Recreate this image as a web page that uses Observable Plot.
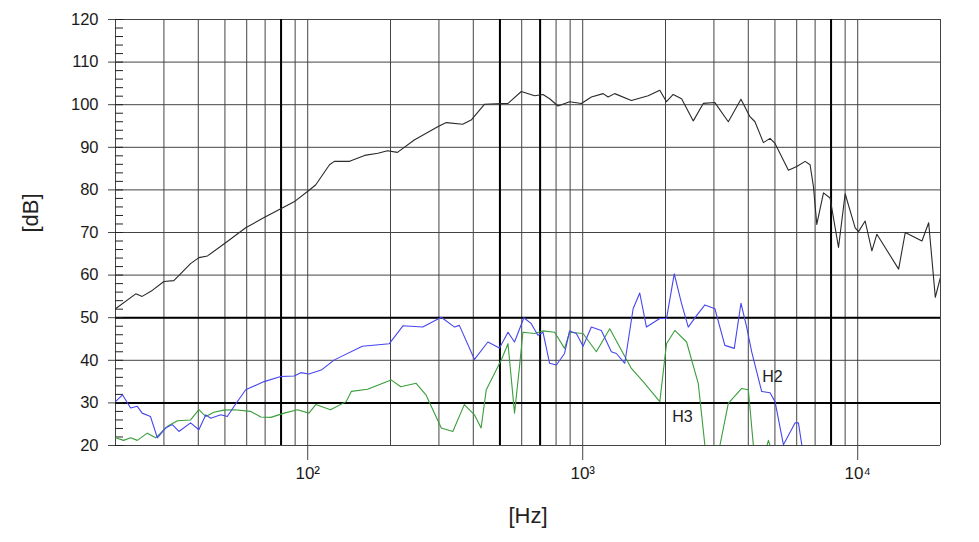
<!DOCTYPE html>
<html>
<head>
<meta charset="utf-8">
<script src="https://cdn.jsdelivr.net/npm/d3@7"></script>
<script src="https://cdn.jsdelivr.net/npm/@observablehq/plot@0.6"></script>
<style>
  html, body { margin: 0; padding: 0; background: #fff; }
  #chart { font-family: "Liberation Sans", Arial, sans-serif; }
</style>
</head>
<body>
<div id="chart"></div>
<script>
// ---- data ----
const mainHz = [20,23.7,25,27.2,30,32.6,37.5,40.2,43.2,50.3,59.5,69.4,79.8,89.2,102,107,120,125,142,161,180,195,212,244,297,319,366,393,439,535,598,668,717,758,813,896,989,1075,1186,1237,1307,1503,1730,1907,2017,2133,2288,2524,2744,3024,3384,3762,4056,4230,4540,4798,5004,5598,6002,6436,6710,6902,7098,7508,7934,8514,9002,9788,10070,10642,11260,11742,14086,14890,17122,18114,19148,20000];
const mainDb = [52.1,55.6,55.0,56.4,58.5,58.7,62.7,64.1,64.5,67.6,71.1,73.5,75.6,77.2,80.1,81.2,85.9,86.7,86.7,88.1,88.6,89.2,88.8,91.7,94.8,95.8,95.4,96.4,100.1,100.3,103.1,102.1,102.4,101.4,99.7,100.7,100.3,101.8,102.6,101.8,102.6,101.0,102.1,103.4,100.7,102.4,101.4,96.2,100.3,100.5,96.0,101.3,97.2,96.0,91.1,92.1,90.9,84.6,85.5,86.7,85.9,80.8,71.9,79.3,78.1,66.5,79.1,71.1,70.2,72.7,65.7,69.6,61.4,70.0,68.0,72.3,54.8,59.5];

const h2Hz = [20,21.2,22.7,24.0,25.0,26.8,28.4,30.4,32.2,34.0,37.5,40.2,42.6,44.4,48.3,51.0,54.0,59.5,69.4,79.8,89.2,94.4,101,112,125,158,198,222,262,306,342,356,404,452,498,535,565,611,650,687,717,758,802,859,896,948,1003,1075,1169,1271,1326,1422,1525,1612,1705,1907,2017,2152,2288,2420,2594,2782,3024,3288,3558,3762,3946,4116,4474,4798,5004,5368,5916,6088,6258,6400,20000];
const h2Db = [30.3,31.9,28.8,29.2,27.6,26.8,21.8,24.1,24.9,23.3,25.3,23.7,27.2,26.4,27.2,26.8,29.2,33.1,35.0,36.2,36.3,37.1,36.8,37.7,40.1,43.3,43.9,48.1,47.8,50.1,47.8,48.2,40.2,44.3,42.9,46.6,44.3,50.0,48.6,45.9,46.6,39.3,38.9,41.6,46.9,46.3,43.3,47.8,47.0,42.0,41.6,39.3,52.1,55.8,47.8,49.8,49.8,60.3,53.3,47.8,50.5,53.0,52.1,43.5,42.8,53.4,47.8,42.0,32.7,32.4,30.3,20.2,25.3,25.3,20.2,12,12];

const h3Hz = [20,21.4,22.7,24.0,26.1,28.0,30.9,33.6,37.5,40.2,42.6,45.6,49.6,54.0,62.1,67.5,73.4,82.1,91.8,101,107,121,138,144,165,201,218,248,269,306,337,371,404,427,446,505,535,565,589,606,668,717,790,859,896,1003,1121,1254,1503,1659,1907,2017,2162,2386,2631,2782,2850,3080,3154,3384,3784,4002,4174,4250,4620,4680,4734,4800,4880,20000];
const h3Db = [21.8,21.2,21.8,21.2,22.9,21.8,24.5,25.8,26.0,28.4,26.8,27.8,28.3,28.4,28.0,26.7,26.6,27.6,28.4,27.6,29.6,28.4,30.3,32.7,33.2,35.4,33.8,34.6,31.9,24.1,23.3,29.6,27.2,24.1,33.1,40.0,43.9,27.6,38.5,46.6,46.3,46.9,46.6,42.8,46.6,46.3,42.0,47.4,38.1,35.0,30.3,43.9,47.0,44.3,34.6,20,12,12,20,29.9,33.4,33.1,20,12,12,20,21.2,20,12,12];

const labelText = ["H2", "H3"];
const labelHz = [4898, 2306];
const labelDb = [36.2, 26.8];

const gridHz = [20,30,40,50,60,70,80,90,100,200,300,400,500,600,700,800,900,1000,2000,3000,4000,5000,6000,7000,8000,9000,10000,20000];
const thickHz = [80, 500, 700, 8000];
const decadeHz = [100, 1000, 10000];
const decadeLabels = ["10²", "10³", "10⁴"];
const yTicks = [20,30,40,50,60,70,80,90,100,110,120];
const thickDb = [30, 50];
const minorDb = [20,22,24,26,28,30,32,34,36,38,40,42,44,46,48,50,52,54,56,58,60,62,64,66,68,70,72,74,76,78,80,82,84,86,88,90,92,94,96,98,100,102,104,106,108,110,112,114,116,118,120];

// ---- chart ----
const rows = (hz, db) => hz.map((f, i) => ({f, db: db[i]}));

const chart = Plot.plot({
  width: 979,
  height: 542,
  marginLeft: 115,
  marginRight: 39,
  marginTop: 19,
  marginBottom: 97,
  style: {fontFamily: "'Liberation Sans', Arial, sans-serif", background: "#fff", color: "#1a1a1a", overflow: "visible"},
  x: {type: "log", domain: [20, 20000]},
  y: {domain: [20, 120]},
  marks: [
    Plot.ruleX(gridHz, {stroke: "#444", strokeWidth: 1}),
    Plot.ruleY(yTicks, {stroke: "#444", strokeWidth: 1}),
    Plot.ruleX(thickHz, {stroke: "#000", strokeWidth: 2}),
    Plot.ruleY(thickDb, {stroke: "#000", strokeWidth: 2}),
    Plot.axisY(yTicks, {tickSize: 7, tickPadding: 10, fontSize: 16.5, label: null, stroke: "#444"}),
    Plot.axisY(minorDb, {tickSize: 8, dx: 8, tickFormat: () => "", label: null, stroke: "#222"}),
    Plot.axisX(decadeHz, {tickSize: 15, tickPadding: 6, fontSize: 17, label: null, stroke: "#444",
      tickFormat: d => decadeLabels[decadeHz.indexOf(d)]}),
    Plot.line(rows(h3Hz, h3Db), {x: "f", y: "db", stroke: "#3a9e3a", strokeWidth: 1.1, clip: true}),
    Plot.line(rows(h2Hz, h2Db), {x: "f", y: "db", stroke: "#4646f0", strokeWidth: 1.1, clip: true}),
    Plot.line(rows(mainHz, mainDb), {x: "f", y: "db", stroke: "#2a2a2a", strokeWidth: 1.1, clip: true}),
    Plot.text(labelText, {x: (d, i) => labelHz[i], y: (d, i) => labelDb[i], text: d => d, fontSize: 16, fill: "#222"}),
    Plot.text(["[dB]"], {frameAnchor: "left", dx: -85, rotate: -90, fontSize: 22, fill: "#222"}),
    Plot.text(["[Hz]"], {frameAnchor: "bottom", dy: 77, fontSize: 22, fill: "#222"})
  ]
});
document.getElementById("chart").appendChild(chart);
</script>
</body>
</html>
